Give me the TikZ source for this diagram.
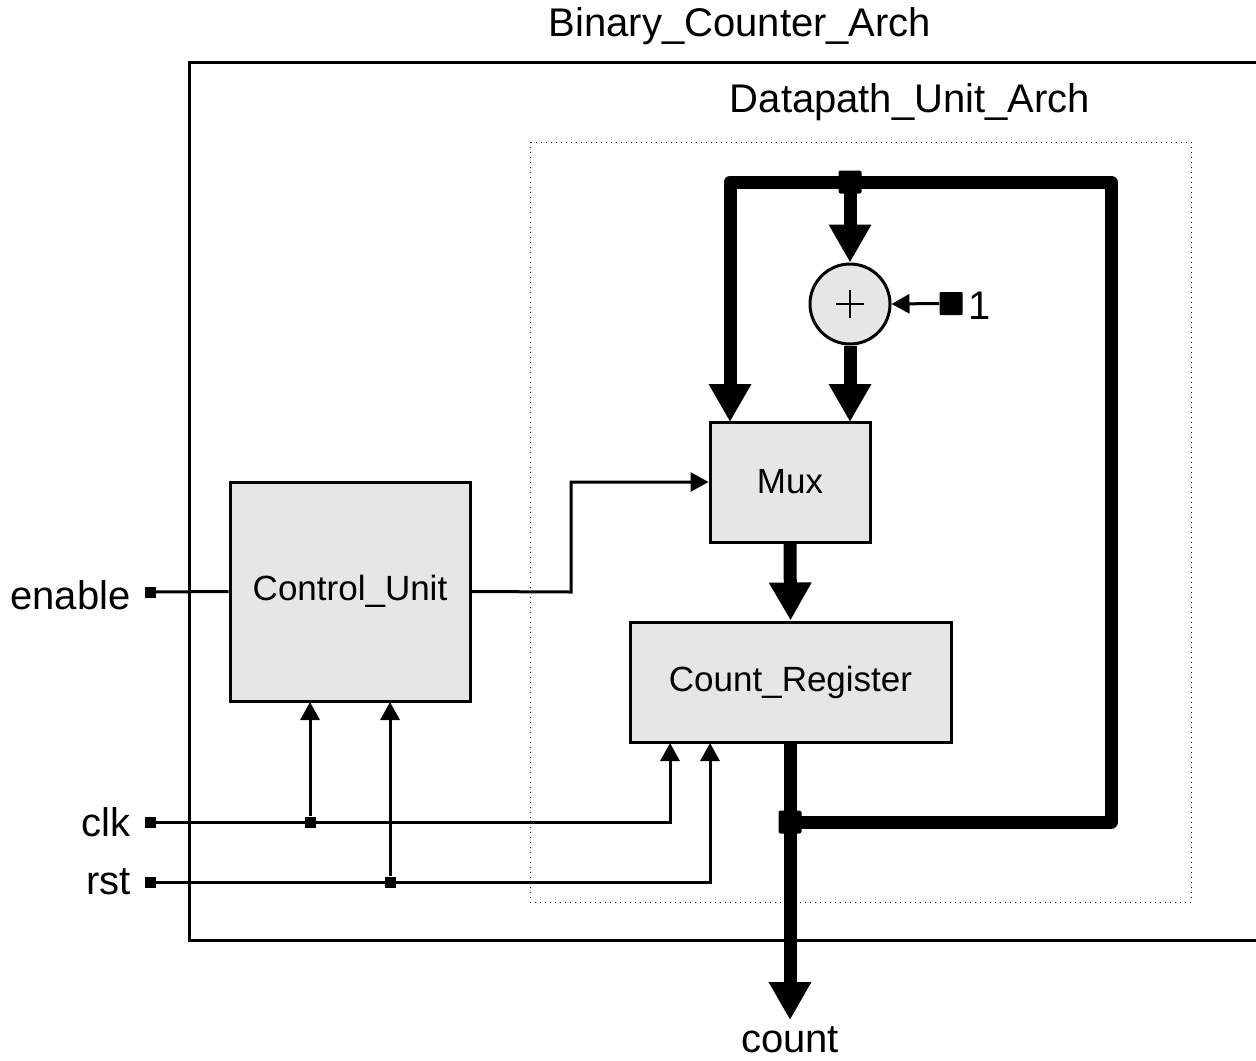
\documentclass[tikz,border=0pt]{standalone}
\usepackage{fontspec}
\setmainfont{Liberation Sans}
\usetikzlibrary{arrows.meta}
\definecolor{blockgray}{HTML}{E6E6E6}
\tikzset{
  blk/.style={draw, line width=1.5pt, fill=blockgray, inner sep=0pt, font=\fontsize{17.5}{21}\selectfont},
  thin wire/.style={line width=1.5pt},
  thin arr/.style={line width=1.5pt, -{Triangle[length=9pt,width=9.5pt]}},
  bus/.style={line width=6.5pt, line join=round},
  bus arr/.style={line width=6.5pt, line join=round, -{Triangle[length=19pt,width=20pt]}},
  port/.style={fill, minimum size=5.5pt, inner sep=0pt},
  dot/.style={fill, minimum size=5.5pt, inner sep=0pt},
  busdot/.style={fill, minimum size=11.5pt, inner sep=0pt, rounded corners=1pt},
  lbl/.style={font=\fontsize{20}{24}\selectfont, inner sep=0pt}
}
\begin{document}
\begin{tikzpicture}[x=0.5pt, y=-0.5pt]
\useasboundingbox (0,0) rectangle (1256,1060);
\clip (0,0) rectangle (1256,1060);
% outer box
\draw[line width=1.5pt] (1270,62) -- (189,62) -- (189,940) -- (1270,940);
\node[lbl] (title) at (740,26) {Binary\_Counter\_Arch};
% datapath box
\draw[dotted, line width=0.5pt] (530,142) rectangle (1191,902);
\node[lbl] (dptitle) at (910,102) {Datapath\_Unit\_Arch};
% blocks
\node[blk, minimum width=120pt, minimum height=109.5pt] (cu) at (350,591.5) {Control\_Unit};
\node[blk, minimum width=80pt, minimum height=60pt] (mux) at (790,482) {Mux};
\node[blk, minimum width=160.5pt, minimum height=60pt] (reg) at (790.5,682) {Count\_Register};
\node[blk, circle, minimum size=40pt] (add) at (850,304) {};
\draw[line width=1pt] ([xshift=-7pt]add.center) -- ([xshift=7pt]add.center)
  ([yshift=-7pt]add.center) -- ([yshift=7pt]add.center);
% constant 1
\node[busdot, rounded corners=0.5pt] (one) at (951,303.5) {};
\node[lbl, anchor=west] (onel) at (968,306) {1};
\draw[thin arr] (one.west) -- (add.east);
% bus junctions
\coordinate (jt) at (850,182);
\coordinate (jb) at (790,822);
\draw[bus arr] (jt) -- (730,182) -- (730,422);
\draw[bus] (jt) -- (1111,182) -- (1111,822) -- (jb);
\draw[bus arr] (jt) -- (add.north);
\draw[bus arr] (add.south) -- (850,422);
\draw[bus arr] (mux.south) -- (reg.north);
\coordinate (cnt) at (790,1020);
\draw[bus arr] (790,742) -- (jb) -- (cnt);
\node[busdot] (jtd) at (jt) {};
\node[busdot] (jbd) at (jb) {};
\node[lbl] (countl) at (790,1040) {count};
% control output to mux
\draw[thin arr] (cu.east) -- (571,592) -- (571,482) -- (mux.west);
% inputs
\node[port] (en) at (150,592) {};
\node[port] (clk) at (150,822) {};
\node[port] (rst) at (150,882) {};
\node[lbl, anchor=east] (enl) at (131,595) {enable};
\node[lbl, anchor=east] (clkl) at (131,822) {clk};
\node[lbl, anchor=east] (rstl) at (131,882) {rst};
\draw[thin wire] (en) -- (cu.west);
\draw[thin arr] (clk) -- (670,822) -- (670,743);
\draw[thin arr] (rst) -- (710,882) -- (710,743);
\node[dot] (clkj) at (310,822) {};
\node[dot] (rstj) at (390,882) {};
\draw[thin arr] (clkj) -- (310,702);
\draw[thin arr] (rstj) -- (390,702);
\end{tikzpicture}
\end{document}
